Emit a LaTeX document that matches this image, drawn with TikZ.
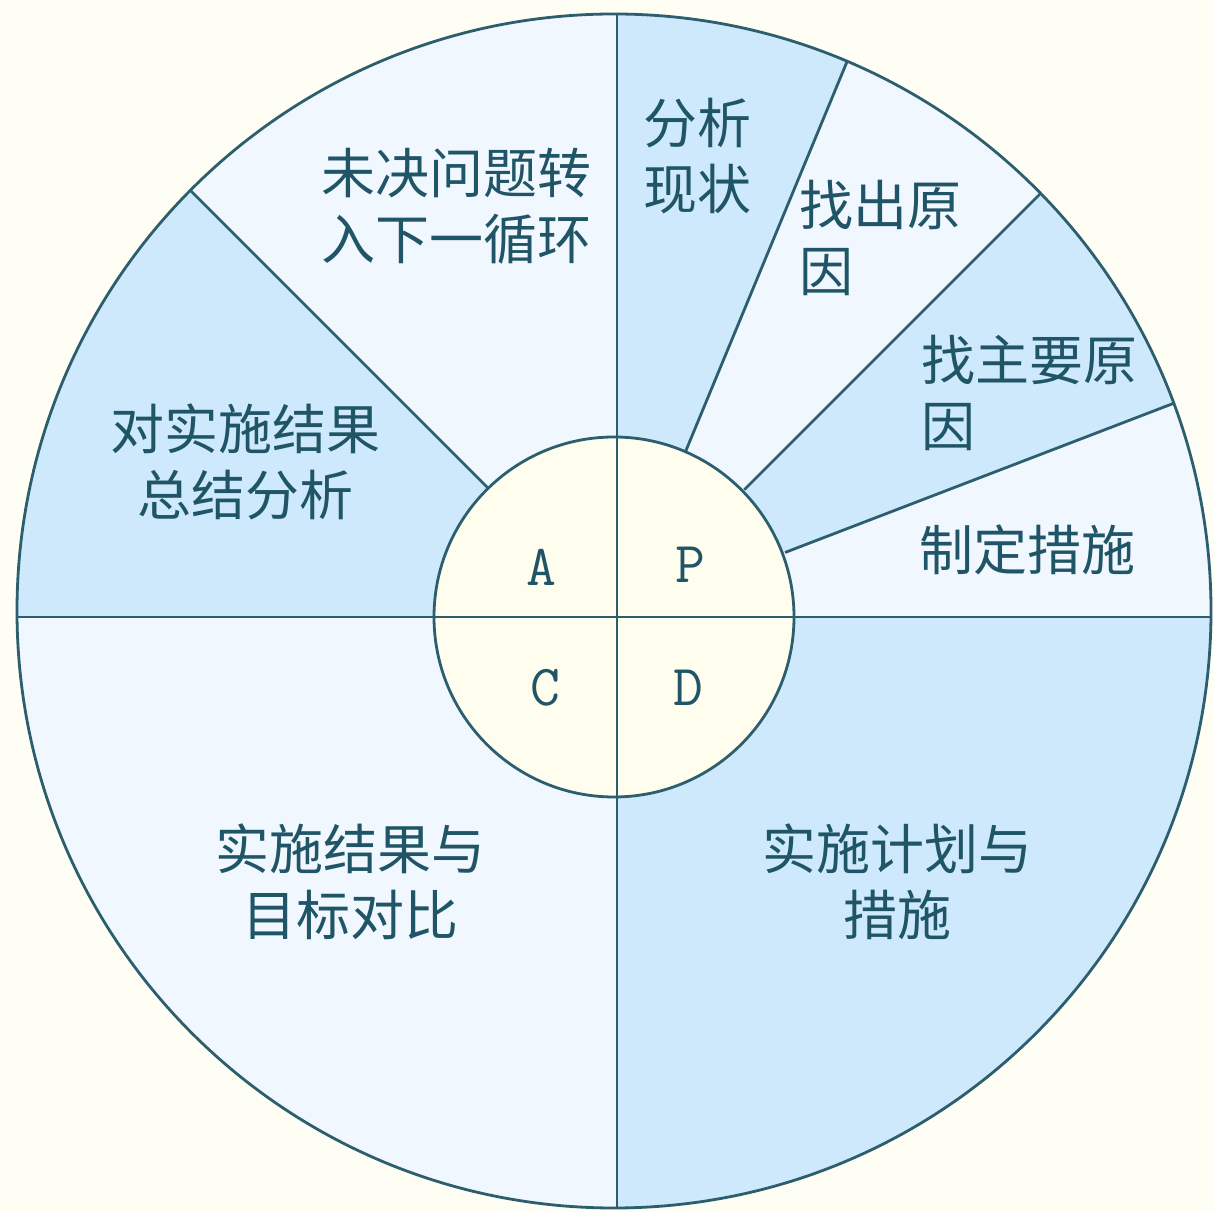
\documentclass[tikz,border=0pt]{standalone}
\usepackage{fontspec}
\usetikzlibrary{calc}
\newfontfamily\cjk{Noto Sans CJK SC}
\definecolor{bgc}{HTML}{FFFEF4}
\definecolor{lblue}{HTML}{CDE9FB}
\definecolor{pale}{HTML}{F1F7FE}
\definecolor{cream}{HTML}{FFFDEE}
\definecolor{linec}{HTML}{2C5E6E}
\definecolor{txtc}{HTML}{1F5566}
\begin{document}
\begin{tikzpicture}[x=1pt,y=1pt,
  seg/.style={draw=linec,line width=2.8pt},
  lab/.style={text=txtc,font=\cjk\fontsize{54}{66}\selectfont,inner sep=0pt},
  letter/.style={text=txtc,font=\ttfamily\fontsize{58}{60}\selectfont,inner sep=0pt}]
\fill[bgc] (0,0) rectangle (1214,1212);
\useasboundingbox (0,0) rectangle (1214,1212);
\coordinate (O) at (617,595);
\coordinate (OC) at (614,601);
\coordinate (IC) at (614,595);
% fills
\begin{scope}
  \clip (OC) circle (597);
  \fill[pale] (OC) circle (597);
  \fill[lblue] (O) -- ++(90:800) -- ($(O)+(67.5:800)$) -- cycle;
  \fill[lblue] (O) -- ++(45:800) -- ($(O)+(21:800)$) -- cycle;
  \fill[lblue] (O) -- ++(135:800) -- ($(O)+(180:800)$) -- cycle;
  \fill[lblue] (O) rectangle (1300,-100);
  % spokes
  \draw[seg] (O) ++(67.5:180) -- ++(67.5:500);
  \draw[seg] (O) ++(45:180) -- ++(45:500);
  \draw[seg] (O) ++(21:180) -- ++(21:500);
  \draw[seg] (O) ++(135:180) -- ++(135:500);
  \draw[seg] (0,595) -- (1214,595);
  \draw[seg] (617,0) -- (617,1212);
\end{scope}
\draw[seg] (OC) circle (597);
% inner circle
\fill[cream] (IC) circle (180);
\draw[seg] (IC) -- ++(-180,0) (IC) -- ++(180,0);
\draw[seg] (617,415) -- (617,775);
\draw[seg] (IC) circle (180);
% letters
\node[letter] (A) at (541,645) {A};
\node[letter] (P) at (690,647) {P};
\node[letter] (C) at (545,524) {C};
\node[letter] (D) at (688,524) {D};
% labels
\node[lab,align=center] (t1) at (697,1056) {分析\\现状};
\node[lab,align=left,anchor=west] (t2) at (799,974) {找出原\\因};
\node[lab,align=left,anchor=west] (t3) at (921,819) {找主要原\\因};
\node[lab] (t4) at (1027,662) {制定措施};
\node[lab,align=center] (t5) at (456,1006) {未决问题转\\入下一循环};
\node[lab,align=center] (t6) at (245,750) {对实施结果\\总结分析};
\node[lab,align=center] (t7) at (350,330) {实施结果与\\目标对比};
\node[lab,align=center] (t8) at (897,330) {实施计划与\\措施};
\end{tikzpicture}
\end{document}
